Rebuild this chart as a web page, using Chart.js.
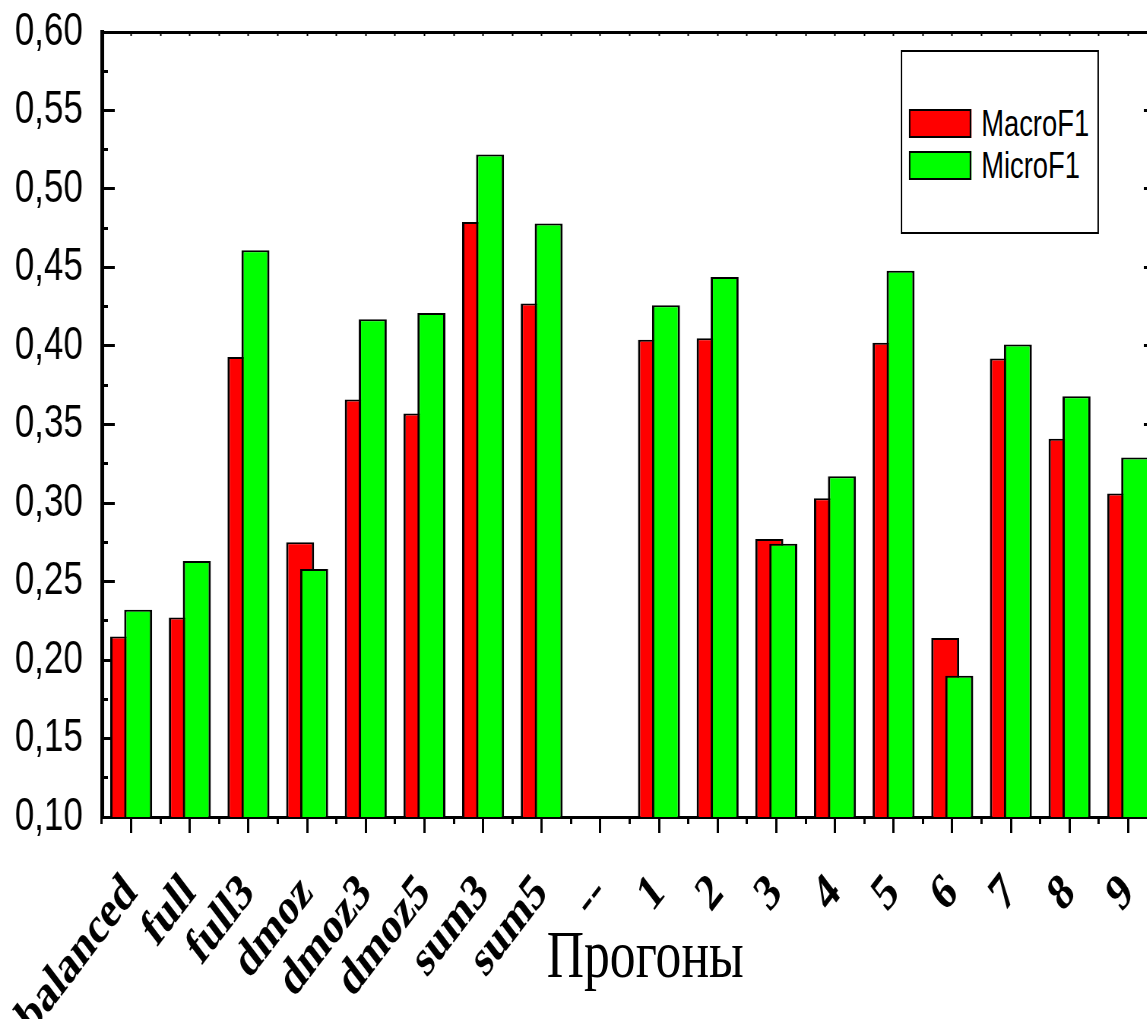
<!DOCTYPE html>
<html>
<head>
<meta charset="utf-8">
<script src="https://cdn.jsdelivr.net/npm/chart.js@4.4.1/dist/chart.umd.min.js"></script>
<style>
	html, body { margin: 0; padding: 0; overflow: hidden; background: #fff; }
	/* the original figure is squeezed horizontally, so the whole chart is drawn wider and scaled */
	#lienzo { position: relative; width: 1540px; height: 1019px; transform: scaleX(0.76); transform-origin: 0 0; }
	#leyenda { position: absolute; left: 1185px; top: 50px; width: 257px; height: 180px; border: 2px solid #000; background: #fff; }
	.item { position: absolute; left: 9px; display: flex; align-items: center; height: 29px; line-height: 29px; font-family: 'Liberation Sans', Arial, sans-serif; font-size: 36px; color: #000; white-space: nowrap; }
	.caja { display: inline-block; width: 78px; height: 25px; border: 2px solid #000; margin-right: 13px; }
	#tituloX { position: absolute; left: 849px; top: 920px; transform: translateX(-50%); font-family: 'Liberation Serif', 'Times New Roman', serif; font-size: 68px; line-height: 68px; color: #000; white-space: nowrap; }
</style>
</head>
<body>
<div id="lienzo">
	<canvas id="myChart" width="1540" height="1019"></canvas>
	<div id="leyenda"></div>
	<div id="tituloX"></div>
</div>
<script>
const categorias = ['balanced', 'full', 'full3', 'dmoz', 'dmoz3', 'dmoz5', 'sum3', 'sum5', '--', '1', '2', '3', '4', '5', '6', '7', '8', '9'];
const macroF1 = [0.215, 0.227, 0.393, 0.275, 0.366, 0.357, 0.479, 0.427, null, 0.404, 0.405, 0.277, 0.303, 0.402, 0.214, 0.392, 0.341, 0.306];
const microF1 = [0.232, 0.263, 0.461, 0.258, 0.417, 0.421, 0.522, 0.478, null, 0.426, 0.444, 0.274, 0.317, 0.448, 0.190, 0.401, 0.368, 0.329];
const yMin = 0.10;
const yMax = 0.60;
const pasoMayor = 0.05;
const pasoMenor = 0.025;
const tituloEjeX = 'Прогоны';

const sans = "'Liberation Sans', Arial, sans-serif";
const serif = "'Liberation Serif', 'Times New Roman', serif";

// green bars overlap the red ones, so draw datasets in index order (last on top)
const verdeEncima = {
	id: 'verdeEncima',
	beforeDatasetsDraw(chart) {
		const a = chart.chartArea;
		const ctx = chart.ctx;
		ctx.save();
		ctx.beginPath();
		ctx.rect(a.left, a.top, a.right - a.left, a.bottom - a.top);
		ctx.clip();
		for (let i = 0; i < chart.data.datasets.length; i++) {
			if (chart.isDatasetVisible(i)) chart.getDatasetMeta(i).controller.draw();
		}
		ctx.restore();
		return false;
	}
};

function ejeVacio(extra) {
	return Object.assign({
		type: 'category',
		offset: true,
		ticks: { display: false },
		border: { display: false },
		grid: { drawOnChartArea: false, tickColor: '#000' }
	}, extra);
}

function ejeY(extra) {
	return Object.assign({
		type: 'linear',
		min: yMin,
		max: yMax,
		ticks: { display: false, stepSize: pasoMayor },
		border: { display: false },
		grid: { drawOnChartArea: false, tickColor: '#000' }
	}, extra);
}

var ctx = document.getElementById('myChart').getContext('2d');
var myChart = new Chart(ctx, {
	type: 'bar',
	data: {
		labels: categorias,
		datasets: [{
			label: 'MacroF1',
			data: macroF1,
			backgroundColor: '#ff0000',
			borderColor: '#000',
			borderWidth: { top: 2, left: 3, right: 3, bottom: 0 },
			borderSkipped: 'start',
			categoryPercentage: 0.477,
			barPercentage: 2.0
		}, {
			label: 'MicroF1',
			data: microF1,
			backgroundColor: '#00ff00',
			borderColor: '#000',
			borderWidth: { top: 2, left: 3, right: 3, bottom: 0 },
			borderSkipped: 'start',
			categoryPercentage: 0.477,
			barPercentage: 2.0
		}]
	},
	options: {
		responsive: false,
		devicePixelRatio: 1,
		animation: false,
		layout: { padding: 0 },
		plugins: {
			legend: { display: false },
			tooltip: { enabled: false }
		},
		scales: {
			x: {
				type: 'category',
				position: 'bottom',
				weight: 1,
				offset: true,
				grid: { display: false, drawTicks: false },
				border: { display: false },
				ticks: {
					color: '#000',
					font: { family: serif, size: 52, weight: 'bold' },
					minRotation: 45,
					maxRotation: 45,
					autoSkip: false,
					padding: 46
				},
				afterFit(s) { s.height = 202; s.paddingLeft = 0; s.paddingRight = 0; }
			},
			xMayor: ejeVacio({
				position: 'bottom', weight: 0,
				border: { display: true, width: 3, color: '#000' },
				grid: { offset: false, drawOnChartArea: false, tickLength: 16, tickWidth: 3, tickColor: '#000' },
				afterFit(s) { s.height = 0; }
			}),
			xMenor: ejeVacio({
				position: 'bottom', weight: 0,
				grid: { offset: true, drawOnChartArea: false, tickLength: 7, tickWidth: 3, tickColor: '#000' },
				afterFit(s) { s.height = 0; }
			}),
			xArriba: ejeVacio({
				position: 'top', weight: 1,
				grid: { offset: false, drawOnChartArea: false, tickLength: -4, tickWidth: 2, tickColor: '#000' },
				afterFit(s) { s.height = 32; }
			}),
			xArriba2: ejeVacio({
				position: 'top', weight: 0,
				border: { display: true, width: 3, color: '#000' },
				grid: { offset: true, drawOnChartArea: false, tickLength: -4, tickWidth: 2, tickColor: '#000' },
				afterFit(s) { s.height = 0; }
			}),
			y: {
				type: 'linear',
				position: 'left',
				weight: 1,
				min: yMin,
				max: yMax,
				grid: { display: false, drawTicks: false },
				border: { display: false },
				ticks: {
					stepSize: pasoMayor,
					color: '#000',
					padding: 25,
					font: { family: sans, size: 46 },
					callback: function (v) { return v.toFixed(2).replace('.', ','); }
				},
				afterFit(s) { s.width = 134; s.paddingTop = 0; s.paddingBottom = 0; }
			},
			yMayor: ejeY({
				position: 'left', weight: 0,
				border: { display: true, width: 5, color: '#000' },
				grid: { drawOnChartArea: false, tickLength: -17, tickWidth: 3, tickColor: '#000' },
				afterFit(s) { s.width = 0; }
			}),
			yMenor: ejeY({
				position: 'left', weight: 0,
				ticks: { display: false, stepSize: pasoMenor },
				grid: { drawOnChartArea: false, tickLength: -8, tickWidth: 3, tickColor: '#000' },
				afterFit(s) { s.width = 0; }
			}),
			yDerecha: ejeY({
				position: 'right', weight: 0,
				border: { display: true, width: 5, color: '#000' },
				grid: { drawOnChartArea: false, tickLength: -18, tickWidth: 3, tickColor: '#000' },
				afterFit(s) { s.width = 17; }
			})
		}
	},
	plugins: [verdeEncima]
});

// axis title and legend box as page text
document.getElementById('tituloX').textContent = tituloEjeX;

const leyenda = document.getElementById('leyenda');
myChart.data.datasets.forEach(function (ds, i) {
	const fila = document.createElement('div');
	fila.className = 'item';
	fila.style.top = (57 + i * 42) + 'px';
	const caja = document.createElement('span');
	caja.className = 'caja';
	caja.style.background = ds.backgroundColor;
	fila.appendChild(caja);
	fila.appendChild(document.createTextNode(ds.label));
	leyenda.appendChild(fila);
});
</script>
</body>
</html>
